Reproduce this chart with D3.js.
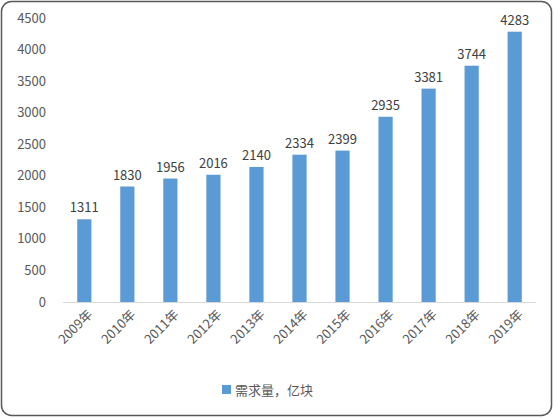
<!DOCTYPE html>
<html><head><meta charset="utf-8">
<script src="https://cdn.jsdelivr.net/npm/d3@7"></script>
<style>body{margin:0;background:#fff}svg{display:block}</style>
</head><body>
<svg id="chart" width="554" height="418"></svg>
<script>
const years = ['2009年','2010年','2011年','2012年','2013年','2014年','2015年','2016年','2017年','2018年','2019年'];
const demand = [1311,1830,1956,2016,2140,2334,2399,2935,3381,3744,4283];
const yTicks = [0,500,1000,1500,2000,2500,3000,3500,4000,4500];

const svg = d3.select('#chart');
const font = '"Noto Sans CJK SC", "Open Sans", sans-serif';

svg.append('rect').attr('x', 1.5).attr('y', 1.5).attr('width', 550).attr('height', 414)
  .attr('rx', 10).attr('fill', '#fff').attr('stroke', '#595959').attr('stroke-width', 1.5);

const x = d3.scaleBand().domain(years).range([63, 536]).paddingInner(0.67).paddingOuter(0.33);
const y = d3.scaleLinear().domain([0, 4500]).range([302, 18]);

// y labels
svg.append('g').selectAll('text').data(yTicks).join('text')
  .attr('x', 46).attr('y', d => y(d)).attr('dy', '0.35em')
  .attr('text-anchor', 'end').attr('font-family', font).attr('font-size', 13)
  .attr('fill', '#595959').text(d => d);

// baseline
svg.append('line').attr('x1', 63).attr('x2', 536).attr('y1', 302.5).attr('y2', 302.5)
  .attr('stroke', '#d9d9d9');

svg.append('g').selectAll('rect').data(demand).join('rect')
  .attr('x', (d, i) => x(years[i])).attr('width', x.bandwidth())
  .attr('y', d => y(d)).attr('height', d => y(0) - y(d))
  .attr('fill', '#5b9bd5');

svg.append('g').selectAll('text').data(demand).join('text')
  .attr('x', (d, i) => x(years[i]) + x.bandwidth() / 2).attr('y', d => y(d) - 7)
  .attr('text-anchor', 'middle').attr('font-family', font).attr('font-size', 13)
  .attr('fill', '#404040').text(d => d);

svg.append('g').selectAll('text').data(years).join('text')
  .attr('transform', d => `translate(${x(d) + x.bandwidth() / 2 + 6},${312}) rotate(-45)`)
  .attr('text-anchor', 'end').attr('dy', '0.35em')
  .attr('font-family', font).attr('font-size', 13).attr('fill', '#595959').text(d => d);

// legend
const lg = svg.append('g').attr('transform', 'translate(222,390)');
lg.append('rect').attr('x', 0).attr('y', -5).attr('width', 9).attr('height', 9).attr('fill', '#5b9bd5');
lg.append('text').attr('x', 13).attr('y', 0).attr('dy', '0.35em')
  .attr('font-family', font).attr('font-size', 13).attr('fill', '#595959').text('需求量，亿块');
</script>
</body></html>
